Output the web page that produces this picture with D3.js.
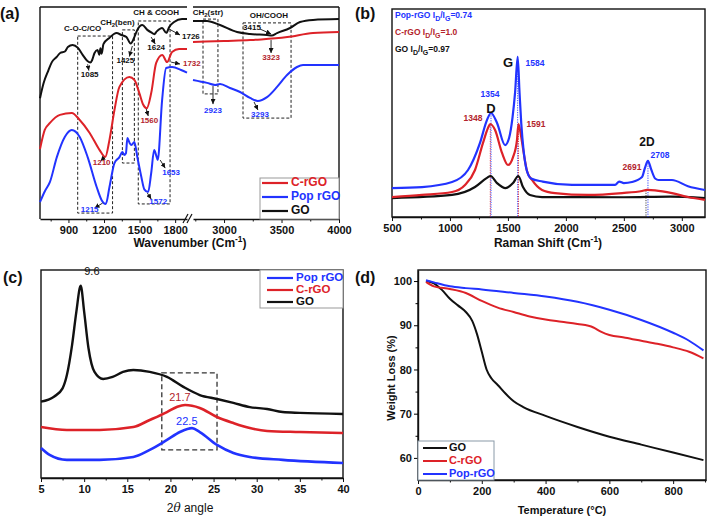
<!DOCTYPE html>
<html><head><meta charset="utf-8">
<script src="https://cdn.jsdelivr.net/npm/d3@7/dist/d3.min.js"></script>
<style>body{margin:0;background:#fff}svg{display:block}text{font-family:Arial,"Liberation Sans",sans-serif}</style>
</head><body><svg id="c" width="709" height="516"></svg>
<script>
// ---------- colours ----------
const RED = "#dd2228", BLUE = "#2233ff", BLACK = "#111111", DRED = "#b3242c";

// ---------- (a) FTIR ----------
const ftirTicksL = [900, 1200, 1500, 1800], ftirMinorL = [750, 1050, 1350, 1650];
const ftirTicksR = [3000, 3500, 4000], ftirMinorR = [2750, 3250, 3750];
const goFtirLx = [660,690,730,760,800,830,870,895,935,980,1020,1060,1085,1100,1120,1145,1160,1170,1180,1195,1245,1305,1347,1389,1425,1456,1481,1523,1565,1607,1624,1645,1690,1726,1750,1791,1858,1900];
const goFtirLy = [57,64,70,74,76.4,78.3,79,81.1,82.1,80.7,77.4,74.5,73.8,75,78.3,79.7,77.5,80.5,78,82.5,85.4,87.7,86.8,85.8,82.8,85.8,89.2,91.5,89.2,87.7,87.2,88.5,90.1,87.8,90.6,92.9,94.3,94.3];
const crFtirLx = [660,700,744,828,928,995,1079,1163,1210,1246,1288,1330,1414,1456,1498,1530,1560,1598,1640,1691,1732,1774,1833,1900];
const crFtirLy = [33,42,45.3,49.1,50,46.7,40.6,32.5,29.2,37.3,51.4,62.3,67,65.6,59.4,54,52.2,59.4,73.6,77.4,74,78.8,80.2,80.2];
const popFtirLx = [660,700,744,802,869,928,995,1062,1138,1179,1215,1246,1288,1330,1355,1370,1385,1397,1415,1431,1456,1481,1515,1540,1572,1598,1623,1640,1653,1690,1724,1774,1850,1900];
const popFtirLy = [8,13,17.5,29.2,38.7,42,38.7,29.2,15.1,9,7.1,15.1,26.4,29.2,31.6,30.2,31,38.2,36,34.9,36.3,29.2,19.8,14,12.7,21.7,32.5,30,27.8,56.1,71.2,71.7,70.3,69];
const goFtirRx = [2730,2852,2965,3113,3226,3374,3415,3461,3574,3661,3774,4000];
const goFtirRy = [93.4,93.4,91.5,88.2,87.3,86.8,86.6,87.7,90.1,92.9,93.9,94.3];
const crFtirRx = [2730,3000,3226,3323,3550,3774,4000];
const crFtirRy = [83.5,84,84.4,84.7,85.8,87.7,88.2];
const popFtirRx = [2730,2852,2923,2965,3052,3139,3226,3293,3374,3461,3548,3635,3687,4000];
const popFtirRy = [65.6,64.2,63.2,63.7,61.8,59.9,57.1,55.7,57.5,62.3,67.9,71.7,72.6,72.6];
const ftirBoxes = [
  {seg:"L", x0:978, x1:1272, y0:2.8, y1:86.3},
  {seg:"L", x0:1355, x1:1456, y0:26.4, y1:89.2},
  {seg:"L", x0:1489, x1:1757, y0:7.1, y1:93.4},
  {seg:"R", x0:2817, x1:2947, y0:59, y1:94.3},
  {seg:"R", x0:3165, x1:3583, y0:47.6, y1:92.5}
];
const ftirGroups = [
  {seg:"L", x:1020, y:89.6, t:["C-O-C/CO"]},
  {seg:"L", x:1313, y:92.5, t:["CH","2","(ben)"]},
  {seg:"L", x:1640, y:97.2, t:["CH & COOH"]},
  {seg:"R", x:2860, y:97.2, t:["CH","2","(str)"]},
  {seg:"R", x:3391, y:95.8, t:["OH/COOH"]}
];
const ftirPeaks = [
  {seg:"L", t:"1085", x:1079, y:67.9, c:BLACK, a:[1062,73,1072,70]},
  {seg:"L", t:"1425", x:1380, y:74.5, c:BLACK, a:[1439,81.6,1414,76.6]},
  {seg:"L", t:"1624", x:1640, y:80.7, c:BLACK, a:[1598,85.8,1632,82.6]},
  {seg:"L", t:"1726", x:1933, y:85.8, c:BLACK, a:[1749,89.6,1841,86.8]},
  {seg:"L", t:"1732", x:1941, y:73.1, c:DRED, a:[1766,74,1841,73.1]},
  {seg:"L", t:"1560", x:1582, y:46.2, c:DRED, a:[1556,51.9,1573,48.6]},
  {seg:"L", t:"1210", x:1180, y:26.4, c:DRED, a:[1205,29.2,1171,27.4]},
  {seg:"L", t:"1653", x:1766, y:21.7, c:BLUE, a:[1674,27.8,1716,24]},
  {seg:"L", t:"1215", x:1079, y:4.2, c:BLUE, a:[1188,7.5,1121,5.2]},
  {seg:"L", t:"1572", x:1657, y:8, c:BLUE, a:[1565,12.3,1598,9.4]},
  {seg:"R", t:"3415", x:3243, y:90.1, c:BLACK, a:[3313,89.6,3409,87.3]},
  {seg:"R", t:"3323", x:3409, y:75.9, c:DRED, a:[3409,84.4,3409,78.3]},
  {seg:"R", t:"2923", x:2904, y:50.9, c:BLUE, a:[2904,62.7,2904,54.2]},
  {seg:"R", t:"3293", x:3313, y:49, c:BLUE, a:[3261,55.2,3295,51.4]}
];

// ---------- (b) Raman ----------
const ramanTicks = [500,1000,1500,2000,2500,3000], ramanMinor = [750,1250,1750,2250,2750];
const popRamanX = [500,759,1018,1156,1259,1319,1354,1406,1475,1510,1540,1562,1584,1600,1615,1635,1660,1700,1800,2053,2424,2460,2500,2570,2657,2682,2708,2735,2770,2800,2915,3053,3200];
const popRamanY = [13.9,14.4,16.8,22.6,35.6,46.6,50,45.2,34.6,38,48,60,77,60,45,32,23,18.5,17,15.4,15.4,17,16.3,16.8,19.2,23.6,27,23,18.5,17.8,17.8,14.8,13];
const crRamanX = [500,759,1018,1130,1216,1285,1328,1348,1389,1449,1501,1544,1578,1591,1610,1630,1665,1708,1794,1906,2191,2485,2657,2700,2769,2915,3053,3200];
const crRamanY = [9.6,10.6,12,15.4,22.6,35.6,42.8,44.7,41.8,30.8,25,28.8,37,44.7,40,33,22,17.8,13,11.5,10.6,11.5,12.5,13,12.8,11.5,9.6,8.2];
const goRamanX = [500,1018,1216,1319,1350,1406,1480,1544,1590,1630,1690,1794,2500,2900,3200];
const goRamanY = [9.1,10.6,14.4,18.8,19.7,16.3,13.9,16.3,19.7,14.4,10.6,9.6,9.5,9.8,9.1];
const ramanDrops = [
  {x:1348, y:44.7, c:RED}, {x:1354, y:50, c:BLUE}, {x:1584, y:77, c:BLUE},
  {x:1591, y:44.7, c:RED}, {x:2691, y:12.8, c:"#333"}, {x:2708, y:27, c:BLUE}
];
const ramanNotes = [
  {t:"G", x:1501, y:74, c:BLACK, fs:13},
  {t:"1584", x:1734, y:73.6, c:BLUE, fs:8.5},
  {t:"1354", x:1345, y:58.6, c:BLUE, fs:8.5},
  {t:"D", x:1354, y:51.6, c:BLACK, fs:13},
  {t:"1348", x:1199, y:47.1, c:DRED, fs:8.5},
  {t:"1591", x:1742, y:44.2, c:DRED, fs:8.5},
  {t:"2D", x:2700, y:35.6, c:BLACK, fs:12},
  {t:"2708", x:2812, y:29.3, c:BLUE, fs:8.5},
  {t:"2691", x:2570, y:23.6, c:DRED, fs:8.5}
];
const ratioNames = ["Pop-rGO", "C-rGO", "GO"];
const ratioValues = ["0.74", "1.0", "0.97"];
const ratioColors = [BLUE, DRED, BLACK];

// ---------- (c) XRD ----------
const xrdTicks = [5,10,15,20,25,30,35,40], xrdMinor = [7.5,12.5,17.5,22.5,27.5,32.5,37.5];
const goXrdX = [5,6.5,7.5,8,8.6,9.1,9.6,10.0,10.5,11.2,12.2,13.3,14.5,15.7,17.6,19.6,21.5,23.4,25.4,27.3,29.2,31.2,33,35,40];
const goXrdY = [36.7,39.1,43.1,49.5,63.9,80,92.5,80,62.5,51,47.6,48.6,51,51.9,51,48.6,43.8,39.9,38,36.1,34.1,33.2,31.7,31.3,30.8];
const crXrdX = [5,8,11.8,15.7,17.6,19.6,20.8,21.7,23.4,25.4,27.3,29.2,31.2,35,40];
const crXrdY = [24.5,23.1,23.1,24.5,27.9,31.7,34.3,35.1,33.7,29.3,26.4,24,22.6,22.1,21.6];
const popXrdX = [5,6,8,11.8,15.7,17.6,19.6,21.1,22.5,23.4,25.4,27.3,29.2,33,40];
const popXrdY = [14.4,11.1,8.7,8.7,10.1,13.5,18.3,22.1,24,22.1,15.9,12,10.1,8.7,7.2];
const xrdBox = {x0:19.0, x1:25.4, y0:13.5, y1:50.5};
const xrdNotes = [
  {t:"9.6", x:10.9, y:99, c:BLACK},
  {t:"21.7", x:21.1, y:38.5, c:DRED},
  {t:"22.5", x:21.9, y:26.9, c:BLUE}
];

// ---------- (d) TGA ----------
const tgaTicksX = [0,200,400,600,800], tgaMinorX = [100,300,500,700,900];
const tgaTicksY = [60,70,80,90,100], tgaMinorY = [65,75,85,95];
const goTgaX = [25,50,75,100,125,150,170,185,200,215,230,250,275,300,330,400,500,600,700,800,895];
const goTgaY = [100,99.5,98,96,94.5,93,91,88,84,80,78,76.5,74.5,72.8,71.5,69.5,67,64.8,63,61.2,59.5];
const crTgaX = [25,50,100,150,200,250,300,350,400,450,500,550,575,600,650,700,750,800,850,895];
const crTgaY = [99.8,98.8,98.2,97.3,95.5,94,93,92,91.3,90.8,90.3,89.5,88.5,87.8,87.2,86.5,85.8,85,84,82.5];
const popTgaX = [25,50,100,150,200,300,400,500,600,700,800,850,895];
const popTgaY = [100.2,99.7,98.8,98.4,98.1,97.3,96.5,95.3,93.5,91.2,88.3,86.5,84.3];

// ================= drawing =================
const svg = d3.select("#c");
const defs = svg.append("defs");
defs.append("marker").attr("id","arr").attr("viewBox","0 0 6 6").attr("refX",6).attr("refY",3)
  .attr("markerWidth",5).attr("markerHeight",5).attr("markerUnits","userSpaceOnUse").attr("orient","auto")
  .append("path").attr("d","M0,0L6,3L0,6Z").attr("fill","#111");

const fmt = d3.format("d");
function curve(g, xs, ys, sx, sy, color, w){
  g.append("path").attr("fill","none").attr("stroke",color).attr("stroke-width",w)
   .attr("stroke-linejoin","round")
   .attr("d", d3.line().x((d,i)=>sx(xs[i])).y((d,i)=>sy(ys[i])).curve(d3.curveMonotoneX)(xs));
}
function bottomAxis(g, scale, y, majors, minors, fs){
  const a = g.append("g").attr("transform",`translate(0,${y})`)
    .call(d3.axisBottom(scale).tickValues(majors).tickFormat(fmt).tickSize(4).tickSizeOuter(0).tickPadding(3));
  a.selectAll("text").attr("font-size",fs).attr("font-weight","bold").attr("fill","#111")
    .attr("font-family",'Arial,"Liberation Sans",sans-serif');
  a.select(".domain").attr("stroke","#111").attr("stroke-width",1.4);
  a.selectAll(".tick line").attr("stroke","#111").attr("stroke-width",1);
  const m = g.append("g").attr("transform",`translate(0,${y})`)
    .call(d3.axisBottom(scale).tickValues(minors).tickSize(2.5).tickSizeOuter(0).tickFormat(""));
  m.select(".domain").remove();
  m.selectAll(".tick line").attr("stroke","#111");
}
function frame(g, x0, y0, x1, y1){
  g.append("rect").attr("x",x0).attr("y",y0).attr("width",x1-x0).attr("height",y1-y0)
   .attr("fill","none").attr("stroke","#111").attr("stroke-width",1.4);
}
function panelLabel(t, x, y){
  svg.append("text").attr("x",x).attr("y",y).attr("font-size",16).attr("font-weight","bold").attr("fill","#111").text(t);
}
function supText(sel, main, sup, tail){
  sel.append("tspan").text(main);
  sel.append("tspan").attr("dy",-5).attr("font-size","0.7em").text(sup);
  sel.append("tspan").attr("dy",5).text(tail);
}

// ---------- panel (a) ----------
{
  const g = svg.append("g");
  const X0=40, X1=339, Y0=7, Y1=219, BL=187, BR=193;
  const xL = d3.scaleLinear().domain([660,1900]).range([X0,BL]);
  const xR = d3.scaleLinear().domain([2730,4000]).range([BR,X1]);
  const y = d3.scaleLinear().domain([0,100]).range([Y1,Y0]);
  const sc = s => s==="L" ? xL : xR;
  g.append("line").attr("x1",X0).attr("x2",X0).attr("y1",Y0).attr("y2",Y1).attr("stroke","#111").attr("stroke-width",1.4);
  g.append("line").attr("x1",X1).attr("x2",X1).attr("y1",Y0).attr("y2",Y1).attr("stroke","#111").attr("stroke-width",1.4);
  g.append("line").attr("x1",X0).attr("x2",BL).attr("y1",Y0).attr("y2",Y0).attr("stroke","#111").attr("stroke-width",1.4);
  g.append("line").attr("x1",BR).attr("x2",X1).attr("y1",Y0).attr("y2",Y0).attr("stroke","#111").attr("stroke-width",1.4);
  bottomAxis(g, xL, Y1, ftirTicksL, ftirMinorL, 11);
  bottomAxis(g, xR, Y1, ftirTicksR, ftirMinorR, 11);
  [BL-2, BL+2].forEach(bx => g.append("line").attr("x1",bx-2).attr("y1",Y1+4).attr("x2",bx+3).attr("y2",Y1-5).attr("stroke","#111").attr("stroke-width",1.2));
  ftirBoxes.forEach(b => {
    const s = sc(b.seg);
    g.append("rect").attr("x",s(b.x0)).attr("y",y(b.y1)).attr("width",s(b.x1)-s(b.x0)).attr("height",y(b.y0)-y(b.y1))
      .attr("fill","none").attr("stroke","#222").attr("stroke-width",1).attr("stroke-dasharray","3,2");
  });
  curve(g, goFtirLx, goFtirLy, xL, y, BLACK, 2);
  curve(g, crFtirLx, crFtirLy, xL, y, RED, 2);
  curve(g, popFtirLx, popFtirLy, xL, y, BLUE, 2);
  curve(g, goFtirRx, goFtirRy, xR, y, BLACK, 2);
  curve(g, crFtirRx, crFtirRy, xR, y, RED, 2);
  curve(g, popFtirRx, popFtirRy, xR, y, BLUE, 2);
  ftirGroups.forEach(n => {
    const t = g.append("text").attr("x",sc(n.seg)(n.x)).attr("y",y(n.y)).attr("text-anchor","middle")
      .attr("dominant-baseline","middle").attr("font-size",8).attr("font-weight","bold").attr("fill","#111");
    if (n.t.length===1) t.text(n.t[0]);
    else { t.append("tspan").text(n.t[0]); t.append("tspan").attr("dy",2).attr("font-size",6).text(n.t[1]); t.append("tspan").attr("dy",-2).text(n.t[2]); }
  });
  ftirPeaks.forEach(n => {
    const s = sc(n.seg);
    g.append("line").attr("x1",s(n.a[0])).attr("y1",y(n.a[1])).attr("x2",s(n.a[2])).attr("y2",y(n.a[3]))
      .attr("stroke","#111").attr("stroke-width",0.9).attr("marker-end","url(#arr)");
    g.append("text").attr("x",s(n.x)).attr("y",y(n.y)).attr("text-anchor","middle").attr("dominant-baseline","middle")
      .attr("font-size",8).attr("font-weight","bold").attr("fill",n.c).text(n.t);
  });
  const lg = g.append("g");
  lg.append("rect").attr("x",X1-79).attr("y",Y1-41).attr("width",79).attr("height",41).attr("fill","#fff").attr("stroke","#999").attr("stroke-width",1);
  [["C-rGO",RED],["Pop rGO",BLUE],["GO",BLACK]].forEach((d,i)=>{
    const yy = Y1-36+i*14;
    lg.append("line").attr("x1",X1-77).attr("x2",X1-51).attr("y1",yy).attr("y2",yy).attr("stroke",d[1]).attr("stroke-width",2.2);
    lg.append("text").attr("x",X1-48).attr("y",yy).attr("dominant-baseline","middle").attr("font-size",12).attr("font-weight","bold").attr("fill",d[1]).text(d[0]);
  });
  const t = g.append("text").attr("x",190).attr("y",247).attr("text-anchor","middle").attr("font-size",12).attr("font-weight","bold").attr("fill","#111");
  supText(t, "Wavenumber (Cm", "-1", ")");
  panelLabel("(a)", 0, 19);
}

// ---------- panel (b) ----------
{
  const g = svg.append("g");
  const X0=392, X1=705, Y0=9, Y1=217;
  const x = d3.scaleLinear().domain([500,3200]).range([X0,X1]);
  const y = d3.scaleLinear().domain([0,100]).range([Y1,Y0]);
  frame(g, X0, Y0, X1, Y1);
  bottomAxis(g, x, Y1, ramanTicks, ramanMinor, 11);
  ramanDrops.forEach(d => g.append("line").attr("x1",x(d.x)).attr("x2",x(d.x)).attr("y1",y(d.y)).attr("y2",Y1)
     .attr("stroke",d.c).attr("stroke-width",0.9).attr("stroke-dasharray","1.2,1.2"));
  curve(g, goRamanX, goRamanY, x, y, BLACK, 2.2);
  curve(g, crRamanX, crRamanY, x, y, RED, 2.2);
  curve(g, popRamanX, popRamanY, x, y, BLUE, 2.2);
  ramanNotes.forEach(n => g.append("text").attr("x",x(n.x)).attr("y",y(n.y)).attr("text-anchor","middle").attr("dominant-baseline","middle")
     .attr("font-size",n.fs).attr("font-weight","bold").attr("fill",n.c).text(n.t));
  ratioNames.forEach((nm,i) => {
    const t = g.append("text").attr("x",X0+3).attr("y",Y0+9+i*17).attr("font-size",8.5).attr("font-weight","bold").attr("fill",ratioColors[i]);
    t.append("tspan").text(nm+" I");
    t.append("tspan").attr("dy",3).attr("font-size",7).text("D");
    t.append("tspan").attr("dy",-3).text("/I");
    t.append("tspan").attr("dy",3).attr("font-size",7).text("G");
    t.append("tspan").attr("dy",-3).text("="+ratioValues[i]);
  });
  const t = g.append("text").attr("x",548).attr("y",247).attr("text-anchor","middle").attr("font-size",12).attr("font-weight","bold").attr("fill","#111");
  supText(t, "Raman Shift (Cm", "-1", ")");
  panelLabel("(b)", 355, 19);
}

// ---------- panel (c) ----------
{
  const g = svg.append("g");
  const X0=41, X1=343, Y0=270, Y1=478;
  const x = d3.scaleLinear().domain([5,40]).range([X0,X1]);
  const y = d3.scaleLinear().domain([0,100]).range([Y1,Y0]);
  frame(g, X0, Y0, X1, Y1);
  bottomAxis(g, x, Y1, xrdTicks, xrdMinor, 11);
  g.append("rect").attr("x",x(xrdBox.x0)).attr("y",y(xrdBox.y1)).attr("width",x(xrdBox.x1)-x(xrdBox.x0)).attr("height",y(xrdBox.y0)-y(xrdBox.y1))
    .attr("fill","none").attr("stroke","#333").attr("stroke-width",1.3).attr("stroke-dasharray","5,3");
  curve(g, goXrdX, goXrdY, x, y, BLACK, 2.4);
  curve(g, crXrdX, crXrdY, x, y, RED, 2.6);
  curve(g, popXrdX, popXrdY, x, y, BLUE, 2.6);
  xrdNotes.forEach(n => g.append("text").attr("x",x(n.x)).attr("y",y(n.y)).attr("text-anchor","middle").attr("dominant-baseline","middle")
     .attr("font-size",11).attr("fill",n.c).text(n.t));
  const lg = g.append("g");
  lg.append("rect").attr("x",X1-83).attr("y",Y0).attr("width",83).attr("height",38).attr("fill","#fff").attr("stroke","#999").attr("stroke-width",1);
  [["Pop rGO",BLUE],["C-rGO",RED],["GO",BLACK]].forEach((d,i)=>{
    const yy = Y0+8+i*12;
    lg.append("line").attr("x1",X1-76).attr("x2",X1-50).attr("y1",yy).attr("y2",yy).attr("stroke",d[1]).attr("stroke-width",2.2);
    lg.append("text").attr("x",X1-47).attr("y",yy).attr("dominant-baseline","middle").attr("font-size",11.5).attr("font-weight","bold").attr("fill",d[1]).text(d[0]);
  });
  const t = g.append("text").attr("x",190).attr("y",512).attr("text-anchor","middle").attr("font-size",12).attr("fill","#111");
  t.append("tspan").text("2");
  t.append("tspan").attr("font-style","italic").attr("font-family",'"DejaVu Serif",serif').text("θ");
  t.append("tspan").text(" angle");
  panelLabel("(c)", 3, 283);
}

// ---------- panel (d) ----------
{
  const g = svg.append("g");
  const X0=418, X1=706, Y0=270, Y1=480;
  const x = d3.scaleLinear().domain([0,903]).range([X0,X1]);
  const y = d3.scaleLinear().domain([55,102.5]).range([Y1,Y0]);
  frame(g, X0, Y0, X1, Y1);
  bottomAxis(g, x, Y1, tgaTicksX, tgaMinorX, 11);
  const a = g.append("g").attr("transform",`translate(${X0},0)`)
    .call(d3.axisLeft(y).tickValues(tgaTicksY).tickFormat(fmt).tickSize(4).tickSizeOuter(0).tickPadding(2));
  a.selectAll("text").attr("font-size",11).attr("font-weight","bold").attr("fill","#111").attr("font-family",'Arial,"Liberation Sans",sans-serif');
  a.select(".domain").attr("stroke","#111").attr("stroke-width",1.4);
  const m = g.append("g").attr("transform",`translate(${X0},0)`)
    .call(d3.axisLeft(y).tickValues(tgaMinorY).tickSize(2.5).tickFormat(""));
  m.select(".domain").remove();
  curve(g, goTgaX, goTgaY, x, y, BLACK, 2);
  curve(g, crTgaX, crTgaY, x, y, RED, 2);
  curve(g, popTgaX, popTgaY, x, y, BLUE, 2);
  const lg = g.append("g");
  lg.append("rect").attr("x",X0).attr("y",Y1-39).attr("width",76).attr("height",39).attr("fill","#fff").attr("stroke","#8a9aa8").attr("stroke-width",1);
  [["GO",BLACK],["C-rGO",RED],["Pop-rGO",BLUE]].forEach((d,i)=>{
    const yy = Y1-32+i*13;
    lg.append("line").attr("x1",X0+5).attr("x2",X0+29).attr("y1",yy).attr("y2",yy).attr("stroke",d[1]).attr("stroke-width",2);
    lg.append("text").attr("x",X0+31).attr("y",yy).attr("dominant-baseline","middle").attr("font-size",11).attr("font-weight","bold").attr("fill",d[1]).text(d[0]);
  });
  g.append("text").attr("x",562).attr("y",514).attr("text-anchor","middle").attr("font-size",11).attr("font-weight","bold").attr("fill","#111").text("Temperature (°C)");
  g.append("text").attr("transform","translate(395,378) rotate(-90)").attr("text-anchor","middle").attr("font-size",11).attr("font-weight","bold").attr("fill","#111").text("Weight Loss (%)");
  panelLabel("(d)", 355, 283);
}
</script></body></html>
